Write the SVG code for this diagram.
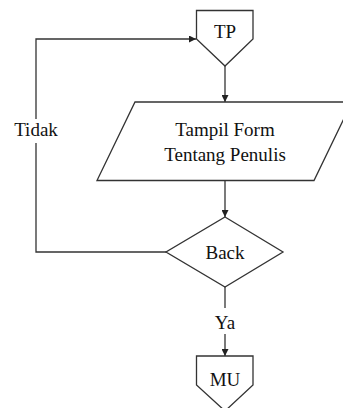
<svg xmlns="http://www.w3.org/2000/svg" width="343" height="408" viewBox="0 0 343 408">
  <defs>
    <marker id="arr" viewBox="0 0 10 10" refX="10" refY="5" markerWidth="7" markerHeight="7" markerUnits="userSpaceOnUse" orient="auto">
      <path d="M0,0 L10,5 L0,10 z" fill="#222"/>
    </marker>
    <style>
      .shape { fill: #fff; stroke: #333; stroke-width: 1.3; }
      .conn { fill: none; stroke: #333; stroke-width: 1.3; }
      text { font-family: "Liberation Serif", "Times New Roman", serif; font-size: 19px; fill: #111; text-anchor: middle; }
    </style>
  </defs>
  <rect width="343" height="408" fill="#fff"/>
  <g id="connectors">
    <path class="conn" d="M225,66 L225,102" marker-end="url(#arr)"/>
    <path class="conn" d="M225,180.5 L225,217" marker-end="url(#arr)"/>
    <path class="conn" d="M225,287 L225,308"/>
    <path class="conn" d="M225,334 L225,356" marker-end="url(#arr)"/>
    <path class="conn" d="M166,252 L36,252 L36,143"/>
    <path class="conn" d="M36,119 L36,39 L196,39" marker-end="url(#arr)"/>
    <text x="36" y="136">Tidak</text>
    <text x="225" y="329">Ya</text>
  </g>
  <g id="tp">
    <path class="shape" d="M196.5,10.5 L253,10.5 L253,39 L225,66 L196.5,39 Z"/>
    <text x="225" y="37.5">TP</text>
  </g>
  <g id="tampil">
    <path class="shape" d="M135,102 L352,102 L314,180.5 L97,180.5 Z"/>
    <text x="225" y="136">Tampil Form</text>
    <text x="225" y="161">Tentang Penulis</text>
  </g>
  <g id="back">
    <path class="shape" d="M225,217 L283,252 L225,287 L166,252 Z"/>
    <text x="225" y="259">Back</text>
  </g>
  <g id="mu">
    <path class="shape" d="M196.5,356 L253,356 L253,385 L225,411 L196.5,385 Z"/>
    <text x="225" y="385.5">MU</text>
  </g>
</svg>
